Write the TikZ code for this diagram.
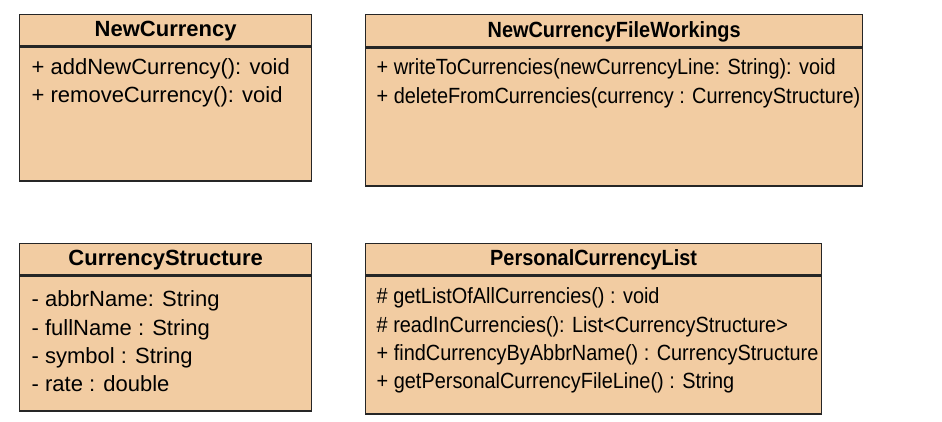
\documentclass[tikz,border=0pt]{standalone}
\usepackage{fontspec}
\setmainfont{Liberation Sans}
\newfontfamily\narrowsans[FakeStretch=0.905]{Liberation Sans}
\usetikzlibrary{positioning}

\definecolor{classfill}{HTML}{F2CCA2}
\definecolor{classline}{HTML}{262626}

\tikzset{
  classhead/.style={draw=classline, fill=classfill, line width=1.3pt, inner sep=0pt,
    anchor=north west, font=\fontsize{22}{26}\selectfont\bfseries,
    text height=15.75pt, text depth=3pt},
  classbody/.style={draw=classline, fill=classfill, line width=1.3pt, inner sep=0pt,
    anchor=north west},
  member/.style={anchor=base west, inner sep=0pt, font=\fontsize{22}{26}\selectfont},
  narrow/.style={font=\fontsize{22}{26}\selectfont\narrowsans}
}

\begin{document}
\begin{tikzpicture}[x=1pt, y=-1pt]
  \useasboundingbox (0, 0) rectangle (942, 422);

  \node[classhead, minimum width=292pt, minimum height=31pt] (nc) at (19, 14) {NewCurrency};
  \node[classbody, minimum width=292pt, minimum height=134pt] (ncb) at (nc.south west) {};
  \node[member] (nc1) at (31.5, 74.5) {+ addNewCurrency(): void};
  \node[member] (nc2) at (31.5, 102.5) {+ removeCurrency(): void};

  \node[classhead, narrow, minimum width=497pt, minimum height=32pt] (ncf) at (365, 14) {\bfseries NewCurrencyFileWorkings};
  \node[classbody, minimum width=497pt, minimum height=138pt] (ncfb) at (ncf.south west) {};
  \node[member, narrow] (ncf1) at (376.5, 75) {+ writeToCurrencies(newCurrencyLine: String): void};
  \node[member, narrow] (ncf2) at (376.5, 103.5) {+ deleteFromCurrencies(currency : CurrencyStructure)};

  \node[classhead, minimum width=292pt, minimum height=31pt] (cs) at (19, 243) {CurrencyStructure};
  \node[classbody, minimum width=292pt, minimum height=135pt] (csb) at (cs.south west) {};
  \node[member] (cs1) at (31.5, 306.5) {- abbrName: String};
  \node[member] (cs2) at (31.5, 335) {- fullName : String};
  \node[member] (cs3) at (31.5, 363.3) {- symbol : String};
  \node[member] (cs4) at (31.5, 391.7) {- rate : double};

  \node[classhead, narrow, minimum width=456pt, minimum height=31pt] (pcl) at (365, 243) {\bfseries PersonalCurrencyList};
  \node[classbody, minimum width=456pt, minimum height=138pt] (pclb) at (pcl.south west) {};
  \node[member, narrow] (pcl1) at (376.5, 303.5) {\# getListOfAllCurrencies() : void};
  \node[member, narrow] (pcl2) at (376.5, 332) {\# readInCurrencies(): List<CurrencyStructure>};
  \node[member, narrow] (pcl3) at (376.5, 360) {+ findCurrencyByAbbrName() : CurrencyStructure};
  \node[member, narrow] (pcl4) at (376.5, 388.3) {+ getPersonalCurrencyFileLine() : String};
\end{tikzpicture}
\end{document}
